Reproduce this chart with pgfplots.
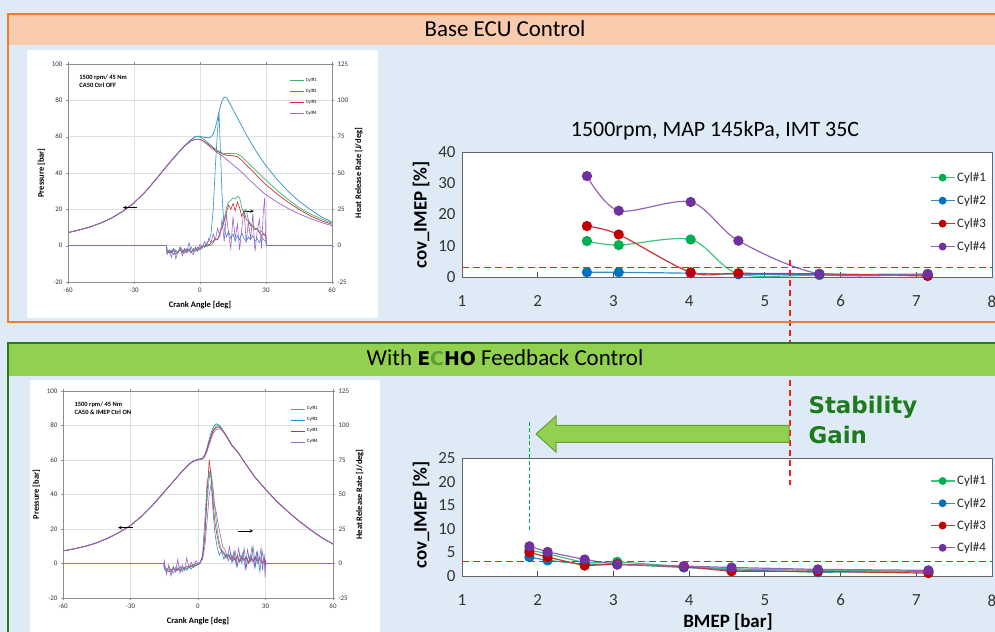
\documentclass[border=0pt]{standalone}
\usepackage{fontspec}
\setmainfont{Carlito}
\newfontfamily\heavy{DejaVu Sans}
\usepackage{pgfplots}
\pgfplotsset{compat=1.18}

\definecolor{bgblue}{HTML}{DEEAF6}
\definecolor{frameorange}{HTML}{ED7D31}
\definecolor{peach}{HTML}{F8CBAD}
\definecolor{hdrgreen}{HTML}{92D050}
\definecolor{framegreen}{HTML}{2A7A1E}
\definecolor{gaingreen}{HTML}{1D7A1D}
\definecolor{echogreen}{HTML}{5E9E36}
\definecolor{arrowedge}{HTML}{6A9E35}
% crank angle plots
\definecolor{lc1}{HTML}{3CB46E}
\definecolor{lc2}{HTML}{2F8FCF}
\definecolor{lc3}{HTML}{C83232}
\definecolor{lc4}{HTML}{9C64C8}
% cov plots
\definecolor{rc1}{HTML}{00B050}
\definecolor{rc2}{HTML}{0070C0}
\definecolor{rc3}{HTML}{C00000}
\definecolor{rc4}{HTML}{7030A0}
\definecolor{limred}{HTML}{FF1A1A}
\definecolor{limgreen}{HTML}{00B050}

\pgfplotsset{
  /pgf/number format/assume math mode=true,
  crank/.style={
    scale only axis,
    xmin=-60, xmax=60, ymin=-20, ymax=100,
    xtick={-60,-30,...,60}, ytick={-20,0,...,100},
    ytick pos=left,
    grid=major, grid style={black!12, line width=0.4pt},
    axis line style={black!45}, tick style={black!45},
    major tick length=2bp, tick align=outside,
    ticklabel style={font=\fontsize{7}{7}\selectfont, text=black!80},
    label style={font=\bfseries\fontsize{8.5}{9}\selectfont},
    xlabel={Crank Angle [deg]}, ylabel={Pressure [bar]},
    xlabel style={yshift=-2bp},
    legend cell align=left,
    legend style={draw=none, fill=none, font=\fontsize{4.8}{5}\selectfont, row sep=2.2bp},
    legend image code/.code={\draw[#1] (0bp,0bp) -- (14bp,0bp);},
    every axis plot/.append style={line width=0.7pt},
  },
  hrr/.style={
    scale only axis,
    xmin=-60, xmax=60, ymin=-25, ymax=125,
    axis x line=none, axis y line*=right,
    ytick={-25,0,...,125},
    axis line style={black!45}, tick style={black!45},
    major tick length=2bp, tick align=outside,
    ticklabel style={font=\fontsize{7}{7}\selectfont, text=black!80},
    ylabel={Heat Release Rate [J/deg]},
    ylabel style={font=\bfseries\fontsize{8.5}{9}\selectfont},
    every axis plot/.append style={line width=0.6pt},
  },
  cov/.style={
    scale only axis, width=530bp,
    xmin=1, xmax=8, ymin=0,
    xtick={1,...,8},
    axis background/.style={fill=white},
    axis line style={black!60, line width=0.9pt},
    xtick pos=bottom, ytick style={draw=none},
    xtick style={black!70, line width=0.8pt},
    tick align=inside, major tick length=5bp,
    ticklabel style={font=\fontsize{17}{17}\selectfont, text=black!80},
    xticklabel style={yshift=-15bp},
    yticklabel style={xshift=-3bp},
    legend cell align=left,
    legend style={draw=none, fill=none, font=\fontsize{13}{13}\selectfont, text=black!85},
    legend image code/.code={\draw[mark repeat=2,mark phase=2,#1,mark size=3.3bp] plot coordinates {(0bp,0bp) (12bp,0bp) (24bp,0bp)};},
    every axis plot/.append style={line width=1.2pt, mark=*, mark size=4.5bp},
  },
}

\begin{document}
\begin{tikzpicture}[x=1bp,y=1bp]
\clip (0,0) rectangle (995,632);
\fill[bgblue] (0,0) rectangle (995,632);
\fill[white] (27,314) rectangle (378,582);
\fill[white] (30,0) rectangle (380,252);

% ---------- Base ECU: pressure ----------
\begin{axis}[crank, at={(68bp,350bp)}, anchor=south west, width=264bp, height=218bp,
  legend style={at={(0.826,0.955)}, anchor=north west}]
\addplot[lc1] coordinates {(-60,7.2) (-55,8.6) (-50,10.3) (-45,12.5) (-40,15.3) (-35,19) (-30,23.5) (-25,29.5) (-20,36.5) (-15,44) (-10,51) (-7,55) (-4,58.3) (-2,60) (0,59.8) (2,58.3) (4,56.3) (6,54.2) (8,52.3) (10,51) (12,50.7) (15,50.8) (17,50.5) (19,49) (21,46.5) (24,43) (27,39.5) (30,36) (35,30.5) (40,25.5) (45,21) (50,17.5) (55,14.8) (60,12.5)};
\addlegendentry{Cyl\#1}
\addplot[lc2] coordinates {(-60,7.2) (-55,8.6) (-50,10.3) (-45,12.5) (-40,15.3) (-35,19) (-30,23.5) (-25,29.5) (-20,36.5) (-15,44) (-10,51) (-7,55) (-4,58.4) (-2,60.3) (0,60.2) (2,59.6) (4,59.4) (5,59.8) (6,61.5) (7,65) (8,70) (9,75.5) (10,79.5) (11,81.8) (12,81.3) (13,79.5) (15,75) (18,68) (20,63.5) (23,57) (26,51) (30,44) (35,36.5) (40,30) (45,24.5) (50,20) (55,16) (60,13)};
\addlegendentry{Cyl\#2}
\addplot[lc3] coordinates {(-60,7.2) (-55,8.6) (-50,10.3) (-45,12.5) (-40,15.3) (-35,19) (-30,23.5) (-25,29.5) (-20,36.5) (-15,44) (-10,51) (-7,54.8) (-4,57.8) (-2,58.6) (0,58.6) (2,57.3) (4,55.5) (6,53.5) (8,51.8) (10,50.5) (12,49.8) (15,49.5) (17,49) (19,47) (21,44.5) (24,41) (27,37) (30,33.5) (35,28.5) (40,24) (45,20) (50,16.5) (55,13.8) (60,11.8)};
\addlegendentry{Cyl\#3}
\addplot[lc4] coordinates {(-60,7.2) (-55,8.6) (-50,10.3) (-45,12.5) (-40,15.3) (-35,19) (-30,23.5) (-25,29.5) (-20,36.5) (-15,44) (-10,51) (-7,54.8) (-4,57.8) (-2,58.5) (0,58.5) (2,57) (4,55) (6,53) (8,51) (10,49.5) (12,47.5) (15,44.5) (18,41.5) (21,38) (24,34.5) (27,31) (30,28) (35,24) (40,20.5) (45,17.5) (50,15) (55,12.8) (60,11)};
\addlegendentry{Cyl\#4}
\draw[-stealth, line width=0.6pt] (axis cs:-28.5,21) -- (axis cs:-35,21);
\draw[-stealth, line width=0.6pt] (axis cs:19.5,19) -- (axis cs:24.5,19);
\node[anchor=north west, align=left, font=\bfseries\fontsize{6.5}{7.8}\selectfont] at (rel axis cs:0.03,0.965) {1500 rpm/ 45 Nm\\CA50 Ctrl OFF};
\end{axis}

% ---------- Base ECU: heat release ----------
\begin{axis}[hrr, at={(68bp,350bp)}, anchor=south west, width=264bp, height=218bp]
\addplot[lc1] coordinates {(-60,0) (-15.2,0) (-15,-4) (-14,-5) (-13,-3) (-12,-6) (-11,-3) (-10,-5) (-9,-2) (-8,-4) (-7,-3) (-6,-5) (-5,-2) (-4,-4) (-3,-3) (-2,-4) (-1,-2) (0,-3) (1,-1) (2,0) (3,-1) (4,1) (5,0) (6,2) (7,5) (8,4) (9,9) (10,14) (11,18) (12,26) (13,30) (14,31) (15,33) (16,32) (17,34) (18,33) (19,26) (20,22) (21,25) (22,17) (23,15) (24,14) (25,12) (26,11) (27,9) (28,10) (29,8) (30,7) (30.2,0) (60,0)};
\addplot[lc3] coordinates {(-60,0) (-15.2,0) (-15,-3) (-14,-5) (-13,-4) (-12,-3) (-11,-6) (-10,-4) (-9,-3) (-8,-5) (-7,-2) (-6,-4) (-5,-3) (-4,-5) (-3,-2) (-2,-3) (-1,-1) (0,-2) (1,0) (2,-1) (3,1) (4,0) (5,2) (6,3) (7,5) (8,4) (9,8) (10,12) (11,17) (12,23) (13,28) (14,25) (15,29) (16,24) (17,30) (18,26) (19,20) (20,24) (21,18) (22,17) (23,14) (24,13) (25,11) (26,12) (27,9) (28,7) (29,8) (30,6) (30.2,0) (60,0)};
\addplot[lc2] coordinates {(-60,0) (-15.2,0) (-15,-5) (-14,-3) (-13,-5) (-12,-2) (-11,-4) (-10,-5) (-9,-1) (-8,-3) (-7,-5) (-6,-2) (-5,-4) (-4,-1) (-3,-4) (-2,-2) (-1,-3) (0,-2) (1,0) (2,-1) (3,2) (4,3) (5,8) (6,25) (7,55) (8,80) (8.6,92) (9.2,70) (10,35) (11,12) (12,6) (13,10) (14,5) (15,8) (16,3) (17,7) (18,4) (19,9) (20,5) (21,3) (22,6) (23,4) (24,7) (25,3) (26,5) (27,2) (28,6) (29,4) (30,3) (30.2,0) (60,0)};
\addplot[lc4] coordinates {(-60,0) (-15.2,0) (-15,-6) (-14,-3) (-13,-8) (-12,-2) (-11,-9) (-10,-4) (-9,-1) (-8,-7) (-7,-3) (-6,-5) (-5,2) (-4,-4) (-3,-6) (-2,-1) (-1,-4) (0,1) (1,-2) (2,3) (3,0) (4,5) (5,2) (6,8) (7,4) (8,12) (9,6) (10,18) (11,3) (12,22) (13,8) (14,-2) (15,20) (16,5) (17,15) (18,-3) (19,12) (20,25) (21,2) (22,17) (23,4) (24,22) (25,-4) (26,10) (27,18) (28,-2) (28.7,22) (29.4,33) (29.8,6) (30,3) (30.2,0) (60,0)};
\end{axis}

% ---------- ECHO: pressure ----------
\begin{axis}[crank, at={(63bp,34bp)}, anchor=south west, width=270bp, height=207bp,
  legend style={at={(0.83,0.945)}, anchor=north west}]
\addplot[lc1] coordinates {(-60,7.3) (-55,8.5) (-50,10) (-45,12) (-40,14.7) (-35,18) (-30,22) (-25,27.5) (-20,34) (-15,41.5) (-10,49) (-7,53.5) (-4,57.5) (-2,59.3) (0,60.2) (2,60.8) (3,62.5) (4,66) (5,70.5) (6,75) (7,78) (8,79.5) (9,80) (10,79.2) (12,75.5) (15,68.8) (18,64) (20,60) (25,50.5) (30,43) (35,36) (40,30) (45,24.5) (50,19.5) (55,15) (60,11.3)};
\addlegendentry{Cyl\#1}
\addplot[lc2] coordinates {(-60,7.3) (-55,8.5) (-50,10) (-45,12) (-40,14.7) (-35,18) (-30,22) (-25,27.5) (-20,34) (-15,41.5) (-10,49) (-7,53.5) (-4,57.7) (-2,59.6) (0,60.5) (2,61) (3,63) (4,67) (5,72) (6,76.5) (7,79.5) (8,81) (9,80.5) (10,79) (12,75) (15,68.5) (18,64) (20,60) (25,50.5) (30,43) (35,36) (40,30) (45,24.5) (50,19.5) (55,15) (60,11.3)};
\addlegendentry{Cyl\#2}
\addplot[lc3] coordinates {(-60,7.3) (-55,8.5) (-50,10) (-45,12) (-40,14.7) (-35,18) (-30,22) (-25,27.5) (-20,34) (-15,41.5) (-10,49) (-7,53.5) (-4,57.5) (-2,59.3) (0,60) (2,60.6) (3,62.5) (4,66) (5,70.5) (6,74.5) (7,77.5) (8,78.8) (9,79.2) (10,78.5) (12,75) (15,68.5) (18,64) (20,60) (25,50.5) (30,43) (35,36) (40,30) (45,24.5) (50,19.5) (55,15) (60,11.3)};
\addlegendentry{Cyl\#3}
\addplot[lc4] coordinates {(-60,7.3) (-55,8.5) (-50,10) (-45,12) (-40,14.7) (-35,18) (-30,22) (-25,27.5) (-20,34) (-15,41.5) (-10,49) (-7,53.5) (-4,57.5) (-2,59.3) (0,60.2) (2,60.6) (3,62) (4,65) (5,69) (6,73) (7,76) (8,77.5) (9,78) (10,78) (12,75.5) (15,68.8) (18,64) (20,60) (25,50.5) (30,43) (35,36) (40,30) (45,24.5) (50,19.5) (55,15) (60,11.3)};
\addlegendentry{Cyl\#4}
\draw[-stealth, line width=0.6pt] (axis cs:-29,20.8) -- (axis cs:-35.5,20.8);
\draw[-stealth, line width=0.6pt] (axis cs:17.8,18.9) -- (axis cs:24.5,18.9);
\node[anchor=north west, align=left, font=\bfseries\fontsize{6.5}{7.8}\selectfont] at (rel axis cs:0.03,0.965) {1500 rpm/ 45 Nm\\CA50 \& IMEP Ctrl ON};
\end{axis}

% ---------- ECHO: heat release ----------
\begin{axis}[hrr, at={(63bp,34bp)}, anchor=south west, width=270bp, height=207bp]
\addplot[lc1] coordinates {(-60,0) (-15.2,0) (-15,-3) (-14,-5) (-13,-4) (-12,-6) (-11,-4) (-10,-5) (-9,-3) (-8,-5) (-7,-4) (-6,-3) (-5,-5) (-4,-3) (-3,-2) (-2,-3) (-1,-1) (0,-1) (1,0) (2,5) (3,20) (4,45) (5,62) (5.6,68) (6.5,58) (7.5,40) (8.5,25) (9.5,15) (10.5,10) (11.5,8) (12.5,5) (13.5,7) (14.5,4) (15.5,6) (16.5,3) (17.5,5) (18.5,2) (19.5,6) (20.5,3) (21.5,5) (22.5,1) (23.5,6) (24.5,2) (25.5,4) (26.5,0) (27.5,5) (28.5,1) (29.5,3) (30,-3) (30.2,0) (60,0)};
\addplot[lc2] coordinates {(-60,0) (-15.2,0) (-15,-4) (-14,-6) (-13,-2) (-12,-5) (-11,-7) (-10,-3) (-9,-5) (-8,-2) (-7,-6) (-6,-3) (-5,-4) (-4,-2) (-3,-4) (-2,-1) (-1,-2) (0,0) (1,1) (2,6) (3,30) (4,58) (5,66) (5.8,62) (6.5,42) (7.5,22) (8.5,12) (9.5,6) (10.5,9) (11.5,3) (12.5,7) (13.5,2) (14.5,8) (15.5,1) (16.5,9) (17.5,-2) (18.5,7) (19.5,0) (20.5,11) (21.5,-3) (22.5,6) (23.5,1) (24.5,12) (25.5,-2) (26.5,8) (27.5,-6) (28.5,9) (29.5,-1) (30,2) (30.2,0) (60,0)};
\addplot[lc3] coordinates {(-60,0) (-15.2,0) (-15,-2) (-14,-4) (-13,-6) (-12,-5) (-11,-3) (-10,-6) (-9,-4) (-8,-5) (-7,-3) (-6,-4) (-5,-2) (-4,-3) (-3,-1) (-2,-2) (-1,0) (0,-1) (1,1) (2,4) (3,18) (4,50) (5,75) (5.7,65) (6.5,48) (7.5,30) (8.5,20) (9.5,12) (10.5,9) (11.5,7) (12.5,4) (13.5,6) (14.5,3) (15.5,5) (16.5,2) (17.5,6) (18.5,1) (19.5,4) (20.5,2) (21.5,5) (22.5,0) (23.5,4) (24.5,1) (25.5,5) (26.5,2) (27.5,3) (28.5,0) (29.5,4) (30,1) (30.2,0) (60,0)};
\addplot[lc4] coordinates {(-60,0) (-15.2,0) (-15,2) (-14,-8) (-13,-1) (-12,-9) (-11,-2) (-10,-6) (-9,3) (-8,-7) (-7,-1) (-6,-5) (-5,4) (-4,-3) (-3,1) (-2,-2) (-1,2) (0,0) (1,1) (2,3) (3,12) (4,30) (5,50) (6,59) (7,45) (8,38) (9,28) (10,20) (11,12) (12,10) (13,4) (14,12) (15,1) (16,9) (17,-2) (18,11) (19,3) (20,8) (21,-4) (22,10) (23,2) (24,12) (25,-3) (26,8) (27,0) (28,11) (28.7,-5) (29.4,7) (29.8,-10) (30,-2) (30.2,0) (60,0)};
\end{axis}

% ---------- Base ECU: COV ----------
\begin{axis}[cov, at={(462bp,355bp)}, anchor=south west, height=125bp,
  ymax=40, ytick={0,10,...,40},
  legend style={at={(0.877,0.87)}, anchor=north west, row sep=8.5bp}]
\addplot[color=rc1!75, mark options={fill=rc1, draw=rc1}, smooth] coordinates {(2.65,11.5) (3.07,10.2) (4.02,12) (4.65,1.0) (5.72,0.6) (7.15,0.6)};
\addlegendentry{Cyl\#1}
\addplot[color=rc2!80, mark options={fill=rc2, draw=rc2}, smooth] coordinates {(2.65,1.5) (3.07,1.5) (4.02,1.2) (4.65,0.9) (5.72,0.8) (7.15,0.9)};
\addlegendentry{Cyl\#2}
\addplot[color=rc3!80, mark options={fill=rc3, draw=rc3}, smooth] coordinates {(2.65,16.3) (3.07,13.6) (4.02,1.5) (4.65,1.2) (5.72,1.0) (7.15,0.3)};
\addlegendentry{Cyl\#3}
\addplot[color=rc4!75, mark options={fill=rc4, draw=rc4}, smooth] coordinates {(2.65,32.3) (3.07,21.2) (4.02,24) (4.65,11.6) (5.72,1.0) (7.15,1.0)};
\addlegendentry{Cyl\#4}
\end{axis}

% ---------- ECHO: COV ----------
\begin{axis}[cov, at={(462bp,56bp)}, anchor=south west, height=118bp,
  ymax=25, ytick={0,5,...,25},
  legend style={at={(0.877,0.885)}, anchor=north west, row sep=7.8bp}]
\addplot[color=rc1!75, mark options={fill=rc1, draw=rc1}] coordinates {(1.89,5.5) (2.13,4.7) (2.62,2.8) (3.05,3.0) (3.93,2.0) (4.56,1.5) (5.70,1.2) (7.16,1.0)};
\addlegendentry{Cyl\#1}
\addplot[color=rc2!80, mark options={fill=rc2, draw=rc2}] coordinates {(1.89,4.0) (2.13,3.3) (2.62,2.5) (3.05,2.5) (3.93,1.8) (4.56,1.3) (5.70,0.8) (7.16,0.9)};
\addlegendentry{Cyl\#2}
\addplot[color=rc3!80, mark options={fill=rc3, draw=rc3}] coordinates {(1.89,5.0) (2.13,4.0) (2.62,2.2) (3.05,2.5) (3.93,2.0) (4.56,1.0) (5.70,1.0) (7.16,0.6)};
\addlegendentry{Cyl\#3}
\addplot[color=rc4!75, mark options={fill=rc4, draw=rc4}] coordinates {(1.89,6.3) (2.13,5.1) (2.62,3.5) (3.05,2.4) (3.93,2.1) (4.56,1.8) (5.70,1.4) (7.16,1.2)};
\addlegendentry{Cyl\#4}
\end{axis}

% limit lines (cov = 3 %) and guide lines, in picture units
\draw[limred, line width=1.7bp, dash pattern=on 7bp off 4bp] (462,364.5) -- (992,364.5);
\draw[limred, line width=1.7bp, dash pattern=on 7bp off 4bp] (462,70.5) -- (992,70.5);
\draw[limred, line width=1.2bp, dash pattern=on 6bp off 4bp] (790,372) -- (790,147);
\draw[limgreen, line width=1.2bp, dash pattern=on 4bp off 2.5bp] (529.5,102) -- (529.5,210);

% axis titles of the COV charts
\node[font=\fontsize{22}{22}\selectfont] at (715,501) {1500rpm, MAP 145kPa, IMT 35C};
\node[rotate=90, font=\bfseries\fontsize{19}{19}\selectfont] at (421,417) {cov\_IMEP [\%]};
\node[rotate=90, font=\bfseries\fontsize{19}{19}\selectfont] at (421,117) {cov\_IMEP [\%]};
\node[font=\bfseries\fontsize{19}{19}\selectfont] at (728,10) {BMEP [bar]};

% frames and headers
\fill[peach] (9,587) rectangle (995,617);
\draw[frameorange, line width=2bp] (995,310) -- (8,310) -- (8,618) -- (995,618);
\fill[hdrgreen] (9,256) rectangle (995,288);
\draw[framegreen, line width=2bp] (995,289) -- (8,289) -- (8,0);
\node[font=\fontsize{23}{23}\selectfont] at (505,603) {Base ECU Control};
\node[font=\fontsize{23}{23}\selectfont] at (505,274) {With {\heavy\bfseries\fontsize{19}{19}\selectfont E\textcolor{echogreen}{C}HO} Feedback Control};

% stability gain arrow
\filldraw[fill=hdrgreen, draw=arrowedge, line width=1bp] (789,206.5) -- (556,206.5) -- (556,216) -- (536,198) -- (556,180) -- (556,189.5) -- (789,189.5) -- cycle;
\node[anchor=base west, font=\heavy\bfseries\fontsize{23}{23}\selectfont, text=gaingreen] at (805,218) {Stability};
\node[anchor=base west, font=\heavy\bfseries\fontsize{23}{23}\selectfont, text=gaingreen] at (805,188) {Gain};
\end{tikzpicture}
\end{document}
